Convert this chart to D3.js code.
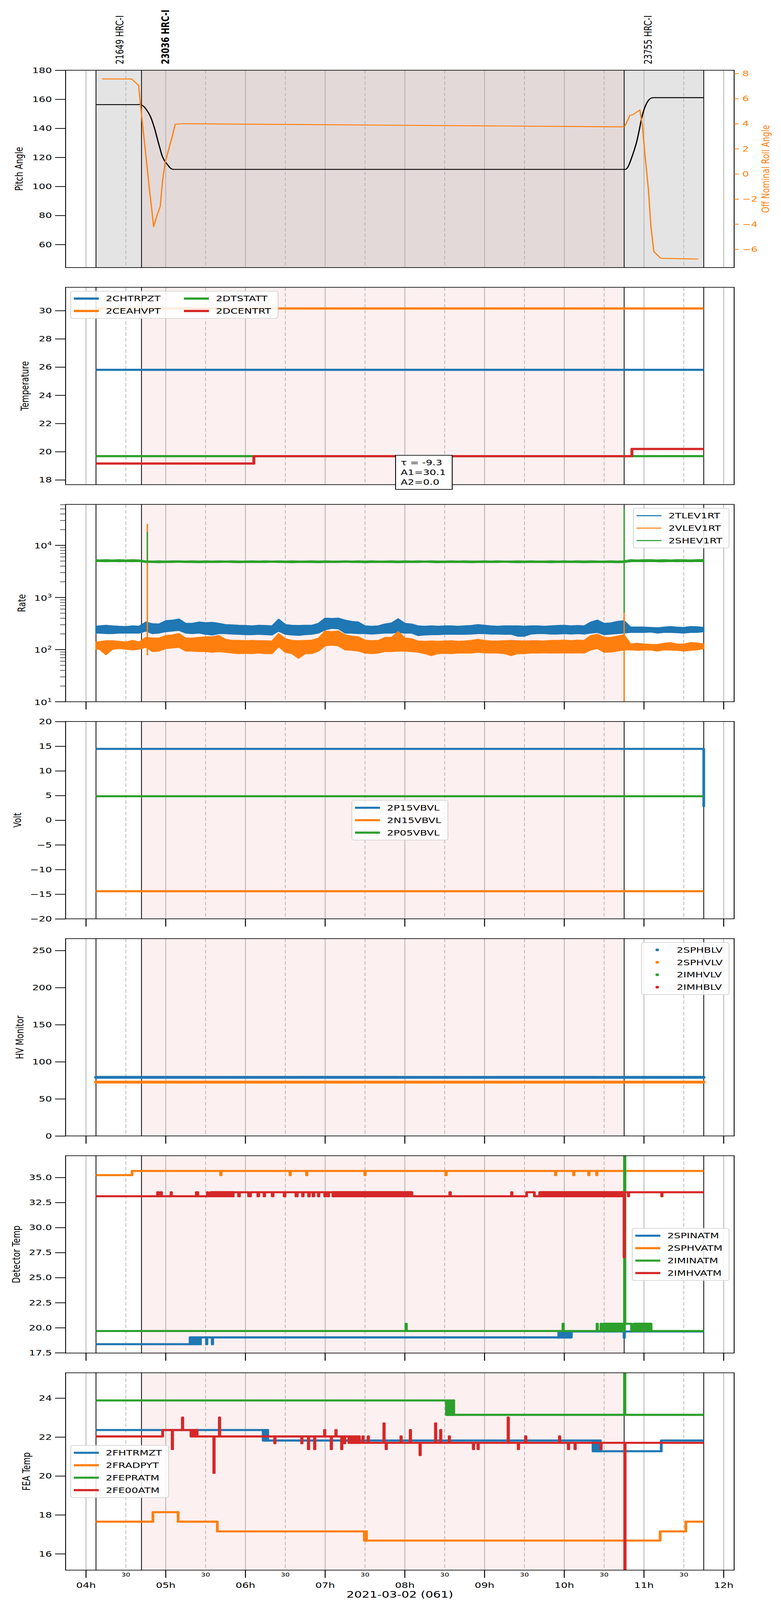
<!DOCTYPE html>
<html>
<head>
<meta charset="utf-8">
<title>HRC 2021-03-02 (061)</title>
<script src="https://cdn.jsdelivr.net/npm/d3@7/dist/d3.min.js"></script>
<style>
  html, body { margin: 0; padding: 0; background: #fff; overflow: hidden; }
  svg { display: block; }
</style>
</head>
<body>
<svg id="chart" width="2000" height="5400"></svg>
<script>
// ---------------- data ----------------
const dataStart = "04:07:30", dataEnd = "11:45:00";
const obsLabels = ["21649 HRC-I", "23036 HRC-I", "23755 HRC-I"];
const obsStart = ["04:07:30", "04:41:45", "10:45:05"];
const obsEnd = ["04:41:45", "10:45:05", "11:45:00"];
const mainObs = 1; // bold label, pink shading

// panel 1: attitude
const pitchAngle = [["04:07:30",156.3],["04:39:00",156.3],["04:40:20",156.45],["04:41:30",156.1],["04:43:10",155.3],
  ["04:45:25",152.9],["04:48:25",148.2],["04:51:20",140.7],["04:54:10",131.1],["04:55:40",126.2],["04:57:00",121.8],
  ["04:59:00",117.8],["05:01:20",115.0],["05:03:30",112.6],["05:06:00",111.7],["10:46:00",111.7],["10:47:30",112.8],
  ["10:49:00",115.5],["10:50:40",119.6],["10:52:30",124.5],["10:54:30",130.7],["10:56:30",139.0],["10:58:10",146.7],
  ["11:00:00",152.8],["11:02:20",157.8],["11:04:30",160.3],["11:06:50",161.1],["11:45:00",161.1]];
const rollAngle = [["04:12:00",7.57],["04:34:20",7.56],["04:39:35",7.05],["04:41:10",5.3],["04:43:55",2.6],
  ["04:47:30",-1.0],["04:50:55",-4.2],["04:53:10",-3.39],["04:55:50",-2.59],["04:57:40",-0.51],["04:59:35",0.93],
  ["05:02:35",2.08],["05:05:20",3.16],["05:07:05",3.95],["05:12:50",4.0],["10:42:35",3.75],["10:45:35",3.8],
  ["10:49:25",4.66],["10:52:00",4.74],["10:56:55",5.1],["10:58:50",3.8],["11:00:40",1.64],["11:03:20",-1.23],
  ["11:05:10",-4.1],["11:07:25",-6.19],["11:12:40",-6.72],["11:41:00",-6.78]];

// panel 2: temperature
const chtrpzt = [["04:07:30",25.8],["11:45:00",25.8]];
const ceahvpt = [["04:07:30",30.15],["11:45:00",30.15]];
const dtstatt = [["04:07:30",19.68],["11:45:00",19.68]];
const dcentrt = [["04:07:30",19.16],["06:06:20",19.68],["10:50:55",20.19],["11:45:00",20.19]];
const fitText = ["\u03c4 = -9.3", "A1=30.1", "A2=0.0"];

// panel 3: rates, noisy -> band low / high every 5 min (first sample at data start)
const tlevLo = [208,208,203,203,208,208,208,208, 227,203,208,221,227,234,208,203, 208,197,191,203,203,199,197,194,
  194,197,194,191,227,197,191,188, 194,197,208,240,255,251,208,208, 203,203,199,203,208,208,214,208,
  208,186,191,194,194,197,197,197, 197,199,203,203,199,199,197,197, 181,181,199,203,203,199,199,203,
  199,203,199,208,214,194,199,203, 208,214,214,214,218,208,214,214, 211,208,214,214,221];
const tlevHi = [280,285,293,285,280,277,285,280, 338,313,310,358,368,386,319,319, 338,329,333,319,302,298,293,290,
  285,293,290,285,383,302,293,290, 293,293,319,401,395,401,368,348, 338,285,280,285,310,324,390,319,
  310,285,280,285,280,285,285,280, 285,290,302,293,285,280,285,285, 285,280,285,285,280,285,290,293,
  285,290,285,338,368,319,324,348, 358,270,270,270,266,262,270,277, 270,266,277,274,266];
const vlevLo = [102,102,80,102,105,102,99,102, 111,92,94,105,108,111,94,94, 92,92,89,92,89,86,84,85,
  84,86,84,84,115,89,84,68, 84,84,94,118,122,118,99,97, 94,86,84,86,92,92,94,94,
  92,89,84,77,84,85,84,86, 86,86,89,87,86,86,84,77, 84,84,86,86,87,86,86,87,
  86,87,86,99,105,89,90,94, 99,99,97,98,99,94,99,98, 97,94,97,99,105];
const vlevHi = [140,142,148,148,144,140,150,140, 171,166,166,186,191,203,166,166, 171,176,176,186,157,150,150,148,
  150,148,148,146,203,162,150,148, 150,152,166,227,221,227,191,181, 176,152,148,150,171,171,221,166,
  162,146,144,146,144,146,148,144, 146,150,157,150,146,146,148,150, 148,146,148,148,146,150,150,152,
  148,152,150,186,197,171,171,181, 191,128,132,128,126,125,132,136, 128,128,136,134,128];
const shevLo = [4850,4900,4850,4900,4850,4900,4850,4900, 4700,4700,4650,4700,4700,4750,4700,4700,
  4650,4700,4700,4700,4750,4700,4650,4700, 4700,4700,4700,4750,4700,4700,4650,4700,
  4700,4700,4650,4700,4700,4700,4750,4700, 4700,4650,4700,4700,4700,4700,4650,4700,
  4700,4700,4750,4700,4650,4700,4700,4700, 4700,4650,4700,4700,4700,4700,4750,4700,
  4650,4700,4700,4700,4700,4650,4700,4700, 4700,4700,4650,4700,4700,4700,4700,4650, 4700,
  4850,4900,4850,4900,4850,4850,4900,4850,4900,4850,4900,4850];
const shevHi = [5300,5250,5300,5250,5300,5250,5300,5250, 5050,5000,5050,5000,5050,5050,5000,5050,
  5000,5050,5000,5050,5000,5050,5000,5000, 5050,5000,5050,5000,5050,5000,5050,5000,
  5000,5050,5000,5050,5000,5000,5050,5000, 5050,5000,5050,5000,5000,5050,5000,5050,
  5000,5050,5000,5050,5000,5000,5050,5000, 5050,5000,5000,5050,5000,5050,5000,5000,
  5050,5000,5050,5000,5000,5050,5000,5050, 5000,5050,5000,5050,5000,5000,5050,5000, 5050,
  5300,5250,5300,5300,5250,5300,5250,5300,5300,5250,5300,5350];
// single-sample spikes: [time, from, to]
const tlevSpikes = [["10:45:05",260,412]];
const vlevSpikes = [["04:46:10",79,25400],["10:45:05",1,518]];
const shevSpikes = [["04:46:10",4900,17800],["10:45:05",518,49000]];

// panel 4: voltages
const p15vbvl = [["04:07:30",14.46],["11:44:50",14.46],["11:45:00",2.7]];
const n15vbvl = [["04:07:30",-14.4],["11:45:00",-14.4]];
const p05vbvl = [["04:07:30",4.85],["11:45:00",4.85]];

// panel 5: HV monitors (dense markers; the IM channels have no samples)
const sphblv = [["04:07:30",79],["11:45:00",79]];
const sphvlv = [["04:07:30",72.5],["11:45:00",72.5]];
const imhvlv = [];
const imhblv = [];

// panel 6: detector temperatures; dense = [from, to, low, high] rapid toggling
const spinatm = [["04:07:30",18.35],["05:18:20",19.03],["05:30:40",18.35],["05:31:00",19.03],["05:35:00",18.35],
  ["05:35:20",19.03],["10:05:20",19.62],["10:45:00",19.0],["10:45:20",19.62],["11:45:00",19.62]];
const spinatmDense = [["05:18:20","05:27:10",18.35,19.03],["09:54:50","10:05:20",19.03,19.62]];
const sphvatm = [["04:07:30",35.23],["04:34:40",35.65],["05:41:20",35.23],["05:41:40",35.65],["06:33:30",35.23],
  ["06:33:50",35.65],["06:46:00",35.23],["06:46:20",35.65],["07:29:50",35.23],["07:30:10",35.65],["08:30:50",35.23],
  ["08:31:10",35.65],["09:53:20",35.23],["09:53:40",35.65],["10:07:00",35.23],["10:07:20",35.65],["10:18:20",35.23],
  ["10:18:40",35.65],["10:24:20",35.23],["10:24:40",35.65],["11:45:00",35.65]];
const iminatm = [["04:07:30",19.67],["08:00:50",20.39],["08:01:10",19.67],["09:59:00",20.39],["09:59:20",19.67],
  ["10:24:40",20.39],["10:25:00",19.67],["10:27:40",20.39],["10:28:00",19.67],["10:29:40",20.39],["10:44:20",19.67],
  ["10:45:20",40],["10:45:40",20.39],["10:50:40",19.67],["10:52:30",20.39],["11:05:20",19.67],["11:45:00",19.67]];
const iminatmDense = [["10:29:40","10:44:20",19.67,20.39],["10:52:30","11:05:20",19.67,20.39]];
const imhvatm = [["04:07:30",33.12],["04:53:50",33.52],["04:54:30",33.12],["04:56:10",33.52],["04:56:50",33.12],
  ["05:04:00",33.52],["05:04:20",33.12],["05:23:00",33.52],["05:24:10",33.12],["05:31:20",33.52],["05:31:40",33.12],
  ["05:33:40",33.52],["05:54:50",33.12],["05:55:30",33.52],["06:02:20",33.12],["06:03:50",33.52],["06:09:20",33.12],
  ["06:10:00",33.52],["06:14:00",33.12],["06:14:30",33.52],["06:20:10",33.12],["06:20:50",33.52],["06:29:10",33.12],
  ["06:29:50",33.52],["06:38:00",33.12],["06:39:00",33.52],["06:43:00",33.12],["06:43:30",33.52],["06:47:30",33.12],
  ["06:48:10",33.52],["06:50:50",33.12],["06:51:30",33.52],["06:54:50",33.12],["06:55:20",33.52],["06:59:40",33.12],
  ["07:00:20",33.52],["07:02:10",33.12],["07:02:40",33.52],["08:05:20",33.12],["08:33:50",33.52],["08:34:20",33.12],
  ["09:20:20",33.52],["09:20:40",33.12],["09:31:40",33.52],["09:37:30",33.12],["09:41:30",33.52],["10:45:00",27.03],
  ["10:45:20",33.52],["10:48:10",33.12],["10:48:30",33.52],["11:13:20",33.12],["11:13:40",33.52],["11:45:00",33.52]];
const imhvatmDense = [["05:33:40","05:51:50",33.12,33.52],["07:04:50","08:05:20",33.12,33.52],
  ["09:41:30","10:45:00",33.12,33.52]];

// panel 7: FEA temperatures
const fhtrmzt = [["04:07:30",22.36],["06:13:20",21.82],["10:21:40",21.27],["11:13:00",21.82],["11:45:00",21.82]];
const fhtrmztDense = [["06:13:20","06:17:50",21.82,22.36],["10:21:40","10:28:10",21.27,21.82]];
const fradpyt = [["04:07:30",17.65],["04:50:20",18.14],["05:09:20",17.65],["05:38:50",17.15],["07:29:30",16.68],
  ["11:12:10",17.15],["11:31:30",17.65],["11:45:00",17.65]];
const fradpytDense = [["07:29:30","07:32:10",16.68,17.15]];
const fepratm = [["04:07:30",23.88],["08:31:20",23.14],["10:45:20",30],["10:45:40",23.14],["11:45:00",23.14]];
const fepratmDense = [["08:31:20","08:37:50",23.14,23.88]];
const fe00atm = [["04:07:30",22.03],["04:57:40",22.36],["05:04:50",21.38],["05:05:10",22.36],["05:12:30",23.0],
  ["05:12:50",22.36],["05:19:00",22.03],["05:36:10",20.16],["05:36:30",22.03],["05:40:20",23.0],["05:40:40",22.03],
  ["06:22:00",21.68],["06:22:20",22.03],["06:42:20",21.68],["06:42:40",22.03],["06:47:20",21.38],["06:47:40",22.03],
  ["06:52:00",21.38],["06:52:20",22.03],["06:59:30",22.36],["06:59:50",22.03],["07:04:30",21.38],["07:04:50",22.03],
  ["07:08:00",22.36],["07:08:20",22.03],["07:12:20",21.38],["07:12:40",22.03],["07:14:30",21.68],["07:14:50",22.03],
  ["07:17:50",21.70],["07:28:20",22.03],["07:28:40",21.70],["07:32:20",22.03],["07:32:40",21.70],["07:44:10",22.7],
  ["07:44:30",21.70],["07:45:50",21.38],["07:46:10",21.70],["07:57:00",22.03],["07:57:20",21.70],["08:04:00",22.36],
  ["08:04:20",21.70],["08:11:20",21.07],["08:11:40",21.70],["08:23:00",22.7],["08:23:20",21.70],["08:26:50",22.36],
  ["08:27:10",21.70],["08:33:20",22.03],["08:33:40",21.70],["08:51:30",21.38],["08:51:50",21.70],["08:55:00",21.38],
  ["08:55:20",21.70],["09:17:40",23.0],["09:18:00",21.70],["09:25:20",21.38],["09:25:40",21.70],["09:30:50",22.03],
  ["09:31:10",21.70],["09:56:20",22.03],["09:56:40",21.70],["10:03:00",21.38],["10:03:20",21.70],["10:08:00",21.38],
  ["10:08:20",21.70],["10:27:30",21.38],["10:27:50",21.70],["10:45:30",10],["10:45:50",21.70],["11:45:00",21.70]];
const fe00atmDense = [["05:19:00","05:24:40",22.03,22.36],["07:17:50","07:26:50",21.70,22.03]];

// ---------------- layout ----------------
const FONT = "DejaVu Sans, sans-serif";
const FS = 26.5;
const C = { blue: "#1f77b4", orange: "#ff7f0e", green: "#2ca02c", red: "#d62728" };
const W = 2000, H = 5400;
const left = 168, right = 1880;
const panelH = 666;
const panelTop = d3.range(7).map(i => 237 + i * 732.7);

const parseT = d3.timeParse("%H:%M:%S");
const T = s => (s instanceof Date ? s : parseT(s));

const t0 = T(dataStart), t1 = T(dataEnd);
const pad = (t1 - t0) * 0.05;
const x = d3.scaleTime().domain([new Date(+t0 - pad), new Date(+t1 + pad)]).range([left, right]);
const hours = d3.timeHour.range(x.domain()[0], x.domain()[1]);
const halfHours = d3.timeMinute.every(30).range(x.domain()[0], x.domain()[1]).filter(d => d.getMinutes() === 30);

// sample times of the rate bands
const rateTimes = [T(dataStart)].concat(d3.timeMinute.every(5).range(T("04:10:00"), T("11:45:01")));

const svg = d3.select("#chart").attr("viewBox", `0 0 ${W} ${H}`);
// if the window is shorter than the figure, fit the whole figure into it
if (window.innerHeight > 0 && window.innerHeight < H) {
  svg.attr("width", W).attr("height", window.innerHeight).attr("preserveAspectRatio", "none");
}
const defs = svg.append("defs");

function addPanel(i) {
  const g = svg.append("g").attr("transform", `translate(0,${panelTop[i]})`);
  defs.append("clipPath").attr("id", "clip" + i).append("rect")
    .attr("x", left).attr("y", 0).attr("width", right - left).attr("height", panelH);
  const inner = g.append("g").attr("clip-path", `url(#clip${i})`);

  // observation shading: all obs in grey on the top panel, the main obs pink everywhere
  obsStart.forEach((s, k) => {
    const fill = i === 0 ? (k === mainObs ? "#e4d9d9" : "#e4e4e4") : (k === mainObs ? "#fdf0f0" : "none");
    inner.append("rect").attr("x", x(T(s))).attr("width", x(T(obsEnd[k])) - x(T(s)))
      .attr("y", 0).attr("height", panelH).attr("fill", fill);
  });

  // hour / half hour grid
  inner.selectAll(null).data(hours).join("line")
    .attr("x1", d => x(d)).attr("x2", d => x(d)).attr("y1", 0).attr("y2", panelH)
    .attr("stroke", "#b0b0b0").attr("stroke-width", 2);
  inner.selectAll(null).data(halfHours).join("line")
    .attr("x1", d => x(d)).attr("x2", d => x(d)).attr("y1", 0).attr("y2", panelH)
    .attr("stroke", "#b0b0b0").attr("stroke-width", 1.8).attr("stroke-dasharray", "12 7");

  // observation boundaries
  const edges = obsStart.concat([obsEnd[obsEnd.length - 1]]);
  inner.selectAll(null).data(edges).join("line")
    .attr("x1", d => x(T(d))).attr("x2", d => x(T(d))).attr("y1", 0).attr("y2", panelH)
    .attr("stroke", "#000").attr("stroke-width", 2);

  const plot = inner.append("g");
  return { g, plot };
}

function finishPanel(p, i) {
  p.g.append("rect").attr("x", left).attr("y", 0).attr("width", right - left).attr("height", panelH)
    .attr("fill", "none").attr("stroke", "#000").attr("stroke-width", 2.2);
  if (i >= 2) {
    p.g.selectAll(null).data(hours).join("line")
      .attr("x1", d => x(d)).attr("x2", d => x(d)).attr("y1", panelH).attr("y2", panelH + 26)
      .attr("stroke", "#000").attr("stroke-width", 2.5);
  }
}

function leftAxis(g, y, ticks, fmt) {
  const a = g.append("g").attr("transform", `translate(${left},0)`)
    .call(d3.axisLeft(y).tickValues(ticks).tickFormat(fmt).tickSize(27).tickPadding(8));
  a.select(".domain").remove();
  a.attr("font-size", FS).attr("font-family", FONT);
  a.selectAll(".tick line").attr("stroke", "#000").attr("stroke-width", 2.5);
  a.selectAll(".tick text").attr("fill", "#000");
  return a;
}

function yLabel(g, text, cx, color) {
  g.append("text").attr("transform", `translate(${cx},${panelH / 2}) rotate(-90)`)
    .attr("text-anchor", "middle").attr("dy", "0.35em")
    .attr("font-size", FS).attr("font-family", FONT).attr("fill", color || "#000").text(text);
}

function stepPath(parent, y, pts, color, lw) {
  const line = d3.line().x(d => x(T(d[0]))).y(d => y(d[1])).curve(d3.curveStepAfter);
  parent.append("path").attr("d", line(pts)).attr("fill", "none").attr("stroke", color)
    .attr("stroke-width", lw).attr("stroke-linejoin", "round").attr("stroke-linecap", "butt");
}

function densePath(parent, y, blocks, color, lw) {
  parent.selectAll(null).data(blocks).join("rect")
    .attr("x", d => x(T(d[0]))).attr("width", d => x(T(d[1])) - x(T(d[0])))
    .attr("y", d => y(d[3]) - lw / 2).attr("height", d => y(d[2]) - y(d[3]) + lw)
    .attr("rx", 2).attr("fill", color);
}

// legend: opts {x, y, w, colDx, marker, lw}, entries [label, color, col, row]
function legend(parent, opts, entries) {
  const rows = d3.max(entries, e => e[3]) + 1;
  const g = parent.append("g").attr("transform", `translate(${opts.x},${opts.y})`);
  g.append("rect").attr("width", opts.w).attr("height", 8 + rows * 42).attr("rx", 6)
    .attr("fill", "rgba(255,255,255,0.85)").attr("stroke", "#d0d0d0").attr("stroke-width", 2);
  entries.forEach(([label, color, col, row]) => {
    const ox = col * (opts.colDx || 0), oy = 25 + row * 42;
    if (opts.marker) {
      g.append("circle").attr("cx", ox + 40).attr("cy", oy).attr("r", 4.5).attr("fill", color);
    } else {
      g.append("line").attr("x1", ox + 8).attr("x2", ox + 72).attr("y1", oy).attr("y2", oy)
        .attr("stroke", color).attr("stroke-width", opts.lw);
    }
    g.append("text").attr("x", ox + 90).attr("y", oy).attr("dy", "0.35em")
      .attr("font-size", FS).attr("font-family", FONT).text(label);
  });
}

const fmtInt = d3.format("d");

// ---------------- panel 1: pitch and off nominal roll ----------------
{
  const p = addPanel(0);
  const y = d3.scaleLinear().domain([44.1, 180]).range([panelH, 0]);
  const yR = d3.scaleLinear().domain([-7.46, 8.26]).range([panelH, 0]);
  p.plot.append("path").attr("d", d3.line().x(d => x(T(d[0]))).y(d => y(d[1])).curve(d3.curveMonotoneX)(pitchAngle))
    .attr("fill", "none").attr("stroke", "#000").attr("stroke-width", 3.2);
  p.plot.append("path").attr("d", d3.line().x(d => x(T(d[0]))).y(d => yR(d[1]))(rollAngle))
    .attr("fill", "none").attr("stroke", C.orange).attr("stroke-width", 3.2).attr("stroke-linejoin", "round");
  finishPanel(p, 0);
  leftAxis(p.g, y, d3.range(60, 181, 20), fmtInt);
  const ra = p.g.append("g").attr("transform", `translate(${right},0)`)
    .call(d3.axisRight(yR).tickValues(d3.range(-6, 9, 2)).tickFormat(fmtInt).tickSize(12).tickPadding(9));
  ra.select(".domain").remove();
  ra.attr("font-size", FS).attr("font-family", FONT);
  ra.selectAll(".tick line").attr("stroke", C.orange).attr("stroke-width", 2.5);
  ra.selectAll(".tick text").attr("fill", C.orange);
  yLabel(p.g, "Pitch Angle", 49);
  yLabel(p.g, "Off Nominal Roll Angle", 1961, C.orange);

  // observation ids above the top panel
  svg.selectAll(null).data(obsLabels).join("text")
    .attr("transform", (d, k) => `translate(${x(new Date(+T(obsStart[k]) + 18 * 60e3))},217) rotate(-90)`)
    .attr("dy", "0.35em").attr("font-size", FS).attr("font-family", FONT)
    .attr("font-weight", (d, k) => k === mainObs ? "bold" : "normal").text(d => d);
}

// ---------------- panel 2: temperature ----------------
{
  const i = 1;
  const p = addPanel(i);
  const y = d3.scaleLinear().domain([17.66, 31.65]).range([panelH, 0]);
  stepPath(p.plot, y, chtrpzt, C.blue, 7.5);
  stepPath(p.plot, y, ceahvpt, C.orange, 7.5);
  stepPath(p.plot, y, dtstatt, C.green, 7.5);
  stepPath(p.plot, y, dcentrt, C.red, 7.5);
  finishPanel(p, i);
  leftAxis(p.g, y, d3.range(18, 31, 2), fmtInt);
  yLabel(p.g, "Temperature", 64);
  legend(p.g, { x: left + 13, y: 13, w: 531, colDx: 282, lw: 7.5 },
    [["2CHTRPZT", C.blue, 0, 0], ["2CEAHVPT", C.orange, 0, 1], ["2DTSTATT", C.green, 1, 0], ["2DCENTRT", C.red, 1, 1]]);
  // fit result box
  const bx = 1013, by = 567;
  const box = p.g.append("g").attr("transform", `translate(${bx},${by})`);
  box.append("rect").attr("width", 145).attr("height", 115).attr("fill", "#fff")
    .attr("stroke", "#000").attr("stroke-width", 2.2);
  box.selectAll(null).data(fitText).join("text")
    .attr("x", 13).attr("y", (d, k) => 24 + k * 33).attr("dy", "0.35em")
    .attr("font-size", FS).attr("font-family", FONT).text(d => d);
}

// ---------------- panel 3: rates (log) ----------------
{
  const i = 2;
  const p = addPanel(i);
  const y = d3.scaleLog().domain([10, 61000]).range([panelH, 0]);
  const band = (lo, hi) => d3.area().x((d, k) => x(rateTimes[k])).y0((d, k) => y(lo[k])).y1((d, k) => y(hi[k]));
  const series = [[tlevLo, tlevHi, tlevSpikes, C.blue], [vlevLo, vlevHi, vlevSpikes, C.orange],
                  [shevLo, shevHi, shevSpikes, C.green]];
  series.forEach(([lo, hi, spikes, color]) => {
    p.plot.append("path").attr("d", band(lo, hi)(lo)).attr("fill", color)
      .attr("stroke", color).attr("stroke-width", 3.5).attr("stroke-linejoin", "round");
    p.plot.selectAll(null).data(spikes).join("line")
      .attr("x1", d => x(T(d[0]))).attr("x2", d => x(T(d[0])))
      .attr("y1", d => y(Math.max(d[1], 1e-3))).attr("y2", d => y(d[2]))
      .attr("stroke", color).attr("stroke-width", 3.5).attr("stroke-linecap", "round");
  });
  finishPanel(p, i);
  // log axis with 10^n labels and minor ticks
  const a = p.g.append("g").attr("transform", `translate(${left},0)`);
  const decades = [10, 100, 1000, 10000];
  const minors = [];
  decades.forEach(d => d3.range(2, 10).forEach(m => { if (d * m < 61000) minors.push(d * m); }));
  a.selectAll(null).data(minors).join("line").attr("x1", -14).attr("x2", 0)
    .attr("y1", d => y(d)).attr("y2", d => y(d)).attr("stroke", "#000").attr("stroke-width", 1.6);
  a.selectAll(null).data(decades).join("line").attr("x1", -27).attr("x2", 0)
    .attr("y1", d => y(d)).attr("y2", d => y(d)).attr("stroke", "#000").attr("stroke-width", 2.5);
  const lab = a.selectAll(null).data(decades).join("text")
    .attr("x", -35).attr("y", d => y(d)).attr("dy", "0.4em").attr("text-anchor", "end")
    .attr("font-size", FS).attr("font-family", FONT);
  lab.append("tspan").text("10");
  lab.append("tspan").attr("dy", "-0.55em").attr("font-size", FS * 0.7).text(d => Math.round(Math.log10(d)));
  yLabel(p.g, "Rate", 56);
  legend(p.g, { x: right - 13 - 245, y: 13, w: 245, lw: 3.5 },
    [["2TLEV1RT", C.blue, 0, 0], ["2VLEV1RT", C.orange, 0, 1], ["2SHEV1RT", C.green, 0, 2]]);
}

// ---------------- panel 4: voltages ----------------
{
  const i = 3;
  const p = addPanel(i);
  const y = d3.scaleLinear().domain([-20, 20]).range([panelH, 0]);
  stepPath(p.plot, y, p15vbvl, C.blue, 7);
  stepPath(p.plot, y, n15vbvl, C.orange, 7);
  stepPath(p.plot, y, p05vbvl, C.green, 7);
  finishPanel(p, i);
  leftAxis(p.g, y, d3.range(-20, 21, 5), fmtInt);
  yLabel(p.g, "Volt", 45);
  legend(p.g, { x: (left + right) / 2 - 123, y: panelH / 2 - 67, w: 246, lw: 7 },
    [["2P15VBVL", C.blue, 0, 0], ["2N15VBVL", C.orange, 0, 1], ["2P05VBVL", C.green, 0, 2]]);
}

// ---------------- panel 5: HV monitors ----------------
{
  const i = 4;
  const p = addPanel(i);
  const y = d3.scaleLinear().domain([0, 266]).range([panelH, 0]);
  const dots = (pts, color) => {
    if (!pts.length) return;
    p.plot.append("path").attr("d", d3.line().x(d => x(T(d[0]))).y(d => y(d[1]))(pts))
      .attr("fill", "none").attr("stroke", color).attr("stroke-width", 10)
      .attr("stroke-linecap", "round").attr("stroke-dasharray", "0 4");
  };
  dots(sphblv, C.blue);
  dots(sphvlv, C.orange);
  dots(imhvlv, C.green);
  dots(imhblv, C.red);
  finishPanel(p, i);
  leftAxis(p.g, y, d3.range(0, 251, 50), fmtInt);
  yLabel(p.g, "HV Monitor", 51);
  legend(p.g, { x: right - 13 - 224, y: 13, w: 224, marker: true },
    [["2SPHBLV", C.blue, 0, 0], ["2SPHVLV", C.orange, 0, 1], ["2IMHVLV", C.green, 0, 2], ["2IMHBLV", C.red, 0, 3]]);
}

// ---------------- panel 6: detector temperatures ----------------
{
  const i = 5;
  const p = addPanel(i);
  const y = d3.scaleLinear().domain([17.47, 37.17]).range([panelH, 0]);
  stepPath(p.plot, y, spinatm, C.blue, 7);
  densePath(p.plot, y, spinatmDense, C.blue, 7);
  stepPath(p.plot, y, sphvatm, C.orange, 7);
  stepPath(p.plot, y, iminatm, C.green, 7);
  densePath(p.plot, y, iminatmDense, C.green, 7);
  stepPath(p.plot, y, imhvatm, C.red, 7);
  densePath(p.plot, y, imhvatmDense, C.red, 7);
  finishPanel(p, i);
  leftAxis(p.g, y, d3.range(17.5, 36, 2.5), d3.format(".1f"));
  yLabel(p.g, "Detector Temp", 42);
  legend(p.g, { x: right - 13 - 248, y: panelH / 2 - 88, w: 248, lw: 7 },
    [["2SPINATM", C.blue, 0, 0], ["2SPHVATM", C.orange, 0, 1], ["2IMINATM", C.green, 0, 2], ["2IMHVATM", C.red, 0, 3]]);
}

// ---------------- panel 7: FEA temperatures + time axis ----------------
{
  const i = 6;
  const p = addPanel(i);
  const y = d3.scaleLinear().domain([15.16, 25.3]).range([panelH, 0]);
  stepPath(p.plot, y, fhtrmzt, C.blue, 7);
  densePath(p.plot, y, fhtrmztDense, C.blue, 7);
  stepPath(p.plot, y, fradpyt, C.orange, 7);
  densePath(p.plot, y, fradpytDense, C.orange, 7);
  stepPath(p.plot, y, fepratm, C.green, 7);
  densePath(p.plot, y, fepratmDense, C.green, 7);
  stepPath(p.plot, y, fe00atm, C.red, 7);
  densePath(p.plot, y, fe00atmDense, C.red, 7);
  finishPanel(p, i);
  leftAxis(p.g, y, d3.range(16, 25, 2), fmtInt);
  yLabel(p.g, "FEA Temp", 68);
  legend(p.g, { x: left + 13, y: panelH / 2 - 88, w: 251, lw: 7 },
    [["2FHTRMZT", C.blue, 0, 0], ["2FRADPYT", C.orange, 0, 1], ["2FEPRATM", C.green, 0, 2], ["2FE00ATM", C.red, 0, 3]]);

  p.g.selectAll(null).data(hours).join("text")
    .attr("x", d => x(d)).attr("y", panelH + 50).attr("dy", "0.35em").attr("text-anchor", "middle")
    .attr("font-size", FS).attr("font-family", FONT).text(d3.timeFormat("%Hh"));
  p.g.selectAll(null).data(halfHours).join("text")
    .attr("x", d => x(d)).attr("y", panelH + 15).attr("dy", "0.35em").attr("text-anchor", "middle")
    .attr("font-size", 18).attr("font-family", FONT).text(d3.timeFormat("%M"));
  p.g.append("text").attr("x", (left + right) / 2).attr("y", panelH + 82).attr("dy", "0.35em")
    .attr("text-anchor", "middle").attr("font-size", 31).attr("font-family", FONT).text("2021-03-02 (061)");
}
</script>
</body>
</html>
